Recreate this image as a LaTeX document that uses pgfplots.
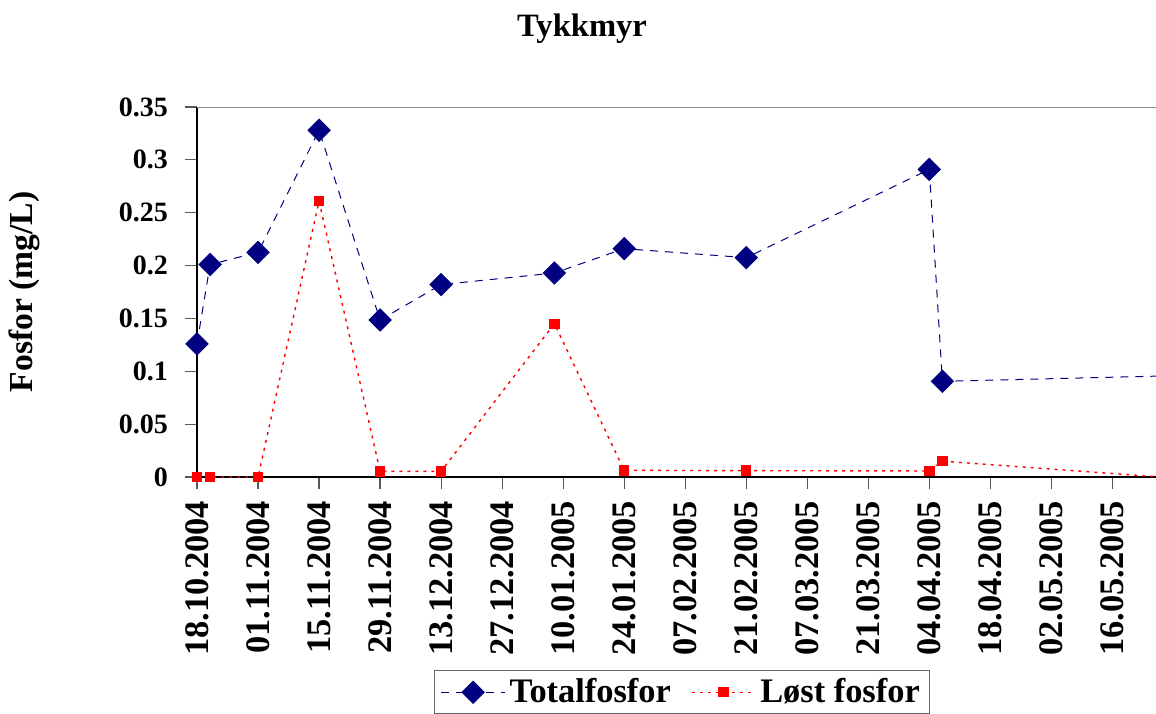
\documentclass[border=0pt]{standalone}
\usepackage{fontspec}
\setmainfont{Liberation Serif}
\usepackage{pgfplots}
\pgfplotsset{compat=1.18}
\definecolor{totcol}{HTML}{000080}
\definecolor{loscol}{HTML}{FF0000}

% days counted from 18.10.2004
\pgfplotstableread{
day  tot
0    0.126
3    0.201
14   0.2125
28   0.328
42   0.1485
56   0.182
82   0.193
98   0.216
126  0.2075
168  0.291
171  0.0905
221  0.0955
}\totaltable
\pgfplotstableread{
day  los
0    0
3    0
14   0
28   0.261
42   0.0054
56   0.0054
82   0.145
98   0.0063
126  0.006
168  0.0057
171  0.015
221  0
}\losttable

\begin{document}
\begin{tikzpicture}
\begin{axis}[
    name=ax,
    scale only axis,
    width=479.5pt, height=185pt,
    xmin=0, xmax=220, ymin=0, ymax=0.35,
    axis x line*=bottom, axis y line*=left,
    axis line style={black, line width=0.8pt, -},
    tick align=outside, major tick length=6pt,
    tick style={black!65, line width=0.6pt},
    xtick={0,14,...,210},
    xticklabels={18.10.2004,01.11.2004,15.11.2004,29.11.2004,13.12.2004,27.12.2004,10.01.2005,24.01.2005,07.02.2005,21.02.2005,07.03.2005,21.03.2005,04.04.2005,18.04.2005,02.05.2005,16.05.2005},
    x tick label style={rotate=90, anchor=east, xshift=-2.5pt, font=\fontsize{17.2}{19}\selectfont\bfseries},
    ytick={0,0.05,...,0.35},
    yticklabels={0,0.05,0.1,0.15,0.2,0.25,0.3,0.35},
    y tick label style={xshift=-5pt, font=\fontsize{14}{16}\selectfont\bfseries},
    ylabel={Fosfor (mg/L)},
    every axis y label/.style={at={(rel axis cs:0,0.5)}, xshift=-86.5pt, rotate=90, anchor=center, font=\fontsize{16.8}{18}\selectfont\bfseries},
    title={Tykkmyr},
    title style={at={(rel axis cs:0.4015,1)}, anchor=base, yshift=29.5pt, font=\fontsize{16.3}{18}\selectfont\bfseries},
    legend style={at={(rel axis cs:0.506,0)}, anchor=north, yshift=-96.5pt,
        draw=black!60, line width=0.6pt, legend columns=2,
        font=\fontsize{17.2}{19}\selectfont\bfseries,
        /tikz/every even column/.append style={column sep=8pt}},
    legend image code/.code={\draw[mark repeat=2,mark phase=2] plot coordinates {(0pt,0pt) (16pt,0pt) (32pt,0pt)};},
    clip=true,
]
\draw[black!45, line width=0.8pt] (rel axis cs:0,1) -- (rel axis cs:1,1);
\addplot[totcol, line width=0.5pt, dash pattern=on 4pt off 3.5pt,
    mark=square*, mark size=3.9pt, mark options={solid, rotate=45, fill=totcol}]
    table[x=day, y=tot] {\totaltable};
\addlegendentry{Totalfosfor}
\addplot[loscol, line width=0.7pt, dash pattern=on 1.5pt off 2.5pt,
    mark=square*, mark size=2.25pt, mark options={solid, fill=loscol}]
    table[x=day, y=los] {\losttable};
\addlegendentry{Løst fosfor}
\end{axis}
\pgfresetboundingbox
\path[use as bounding box] ([xshift=-98.5pt,yshift=-118pt]ax.south west) rectangle ([yshift=53.5pt]ax.north east);
\end{tikzpicture}
\end{document}
